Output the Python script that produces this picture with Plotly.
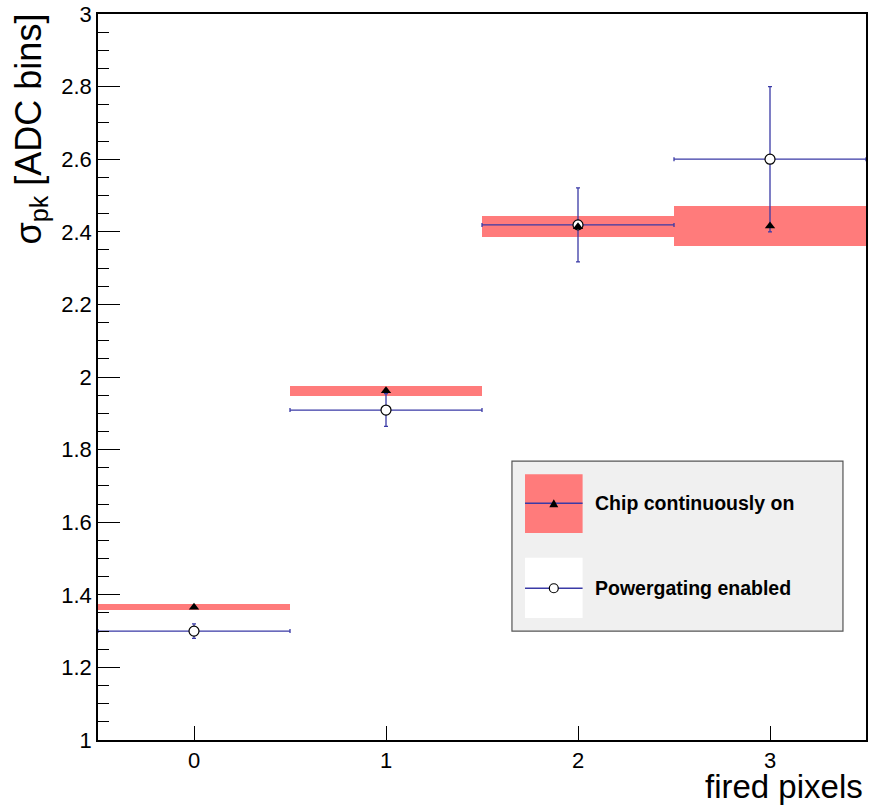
import plotly.graph_objects as go

fired_pixels = [0, 1, 2, 3]
chip_on_sigma = [1.366, 1.962, 2.414, 2.416]
chip_on_err = [0.008, 0.013, 0.029, 0.055]
pg_sigma = [1.300, 1.909, 2.419, 2.600]
pg_err = [0.020, 0.045, 0.102, 0.200]
bin_halfwidth = [0.5, 0.5, 0.5, 0.5]
y_ticks = [1.0, 1.2, 1.4, 1.6, 1.8, 2.0, 2.2, 2.4, 2.6, 2.8, 3.0]
y_ticklabels = ["1", "1.2", "1.4", "1.6", "1.8", "2", "2.2", "2.4", "2.6", "2.8", "3"]

RED = "#ff7b7b"
NAVY = "#3a3aa6"
FONT = "Liberation Sans, Arial, Helvetica, sans-serif"

fig = go.Figure()

# Systematic band (chip continuously on)
fig.add_trace(go.Bar(
    x=fired_pixels,
    y=[2 * e for e in chip_on_err],
    base=[v - e for v, e in zip(chip_on_sigma, chip_on_err)],
    width=[2 * w for w in bin_halfwidth],
    marker=dict(color=RED, line=dict(width=0)),
    showlegend=False, hoverinfo="skip",
))

# Powergating enabled
fig.add_trace(go.Scatter(
    x=fired_pixels, y=pg_sigma, mode="markers",
    marker=dict(symbol="circle", size=10, color="white", line=dict(color="black", width=1.2)),
    error_x=dict(type="data", array=bin_halfwidth, color=NAVY, thickness=1.3, width=2),
    error_y=dict(type="data", array=pg_err, color=NAVY, thickness=1.3, width=2),
    showlegend=False,
))

# Chip continuously on markers
fig.add_trace(go.Scatter(
    x=fired_pixels, y=chip_on_sigma, mode="markers",
    marker=dict(symbol="triangle-up", size=9, color="black"),
    showlegend=False,
))

# Manual legend (ROOT-style box)
shapes = []
annotations = []
shapes.append(dict(type="rect", xref="paper", yref="paper",
                   x0=0.539, x1=0.970, y0=0.150, y1=0.384,
                   fillcolor="#f0f0f0", line=dict(color="#555555", width=1.2), layer="above"))
sx0, sx1 = 0.556, 0.631
shapes.append(dict(type="rect", xref="paper", yref="paper",
                   x0=sx0, x1=sx1, y0=0.285, y1=0.366,
                   fillcolor=RED, line=dict(width=0), layer="above"))
shapes.append(dict(type="line", xref="paper", yref="paper",
                   x0=sx0, x1=sx1, y0=0.326, y1=0.326,
                   line=dict(color=NAVY, width=1.5), layer="above"))
shapes.append(dict(type="rect", xref="paper", yref="paper",
                   x0=sx0, x1=sx1, y0=0.168, y1=0.251,
                   fillcolor="white", line=dict(width=0), layer="above"))
shapes.append(dict(type="line", xref="paper", yref="paper",
                   x0=sx0, x1=sx1, y0=0.209, y1=0.209,
                   line=dict(color=NAVY, width=1.5), layer="above"))
cx = (sx0 + sx1) / 2
pw, ph = 770.5, 726.0
tri_h = 8 / ph
tri_w = 4.5 / pw
shapes.append(dict(type="path", xref="paper", yref="paper",
                   path=f"M {cx - tri_w} {0.326 - tri_h/2} L {cx + tri_w} {0.326 - tri_h/2} L {cx} {0.326 + tri_h/2} Z",
                   fillcolor="black", line=dict(width=0), layer="above"))
r = 4.5
shapes.append(dict(type="circle", xref="paper", yref="paper",
                   x0=cx - r / pw, x1=cx + r / pw, y0=0.209 - r / ph, y1=0.209 + r / ph,
                   fillcolor="white", line=dict(color="black", width=1.2), layer="above"))
annotations.append(dict(xref="paper", yref="paper", x=0.644, y=0.326, xanchor="left", yanchor="middle",
                        text="<b>Chip continuously on</b>", showarrow=False,
                        font=dict(family=FONT, size=19.5, color="black")))
annotations.append(dict(xref="paper", yref="paper", x=0.644, y=0.209, xanchor="left", yanchor="middle",
                        text="<b>Powergating enabled</b>", showarrow=False,
                        font=dict(family=FONT, size=19.5, color="black")))

# axis titles
annotations.append(dict(xref="paper", yref="paper", x=1.0, y=0, xanchor="right", yanchor="top",
                        yshift=-26, xshift=-1,
                        text="fired pixels", showarrow=False,
                        font=dict(family=FONT, size=33, color="black")))
annotations.append(dict(xref="paper", yref="paper", x=0, y=1.0, xanchor="center", yanchor="top",
                        xshift=-68, yshift=2, textangle=-90,
                        text="σ<sub>pk</sub> [ADC bins]", showarrow=False,
                        font=dict(family=FONT, size=36, color="black")))

fig.update_layout(
    width=870, height=807,
    margin=dict(l=98, r=2, t=14, b=67),
    paper_bgcolor="white", plot_bgcolor="white",
    bargap=0, barmode="overlay",
    font=dict(family=FONT, size=22, color="black"),
    shapes=shapes, annotations=annotations,
    showlegend=False,
)
fig.update_xaxes(
    range=[-0.5, 3.5], tickmode="array", tickvals=fired_pixels,
    ticktext=[str(v) for v in fired_pixels],
    ticks="inside", ticklen=14, tickwidth=1.2, tickcolor="black",
    showline=True, linecolor="black", linewidth=1.5, mirror=True,
    showgrid=False, zeroline=False,
    tickfont=dict(family=FONT, size=22, color="black"),
)
fig.update_yaxes(
    range=[1, 3], tickmode="array", tickvals=y_ticks, ticktext=y_ticklabels,
    ticks="inside", ticklen=22, tickwidth=1.2, tickcolor="black",
    minor=dict(ticks="inside", ticklen=11, tick0=1, dtick=0.05, tickcolor="black", tickwidth=1.2, showgrid=False),
    showline=True, linecolor="black", linewidth=1.5, mirror=True,
    showgrid=False, zeroline=False, ticklabeloverflow="allow",
    tickfont=dict(family=FONT, size=22, color="black"),
)

fig.write_html("out.html", config={"displayModeBar": False},
               post_script="document.body.style.margin='0';document.body.style.overflow='hidden';")
